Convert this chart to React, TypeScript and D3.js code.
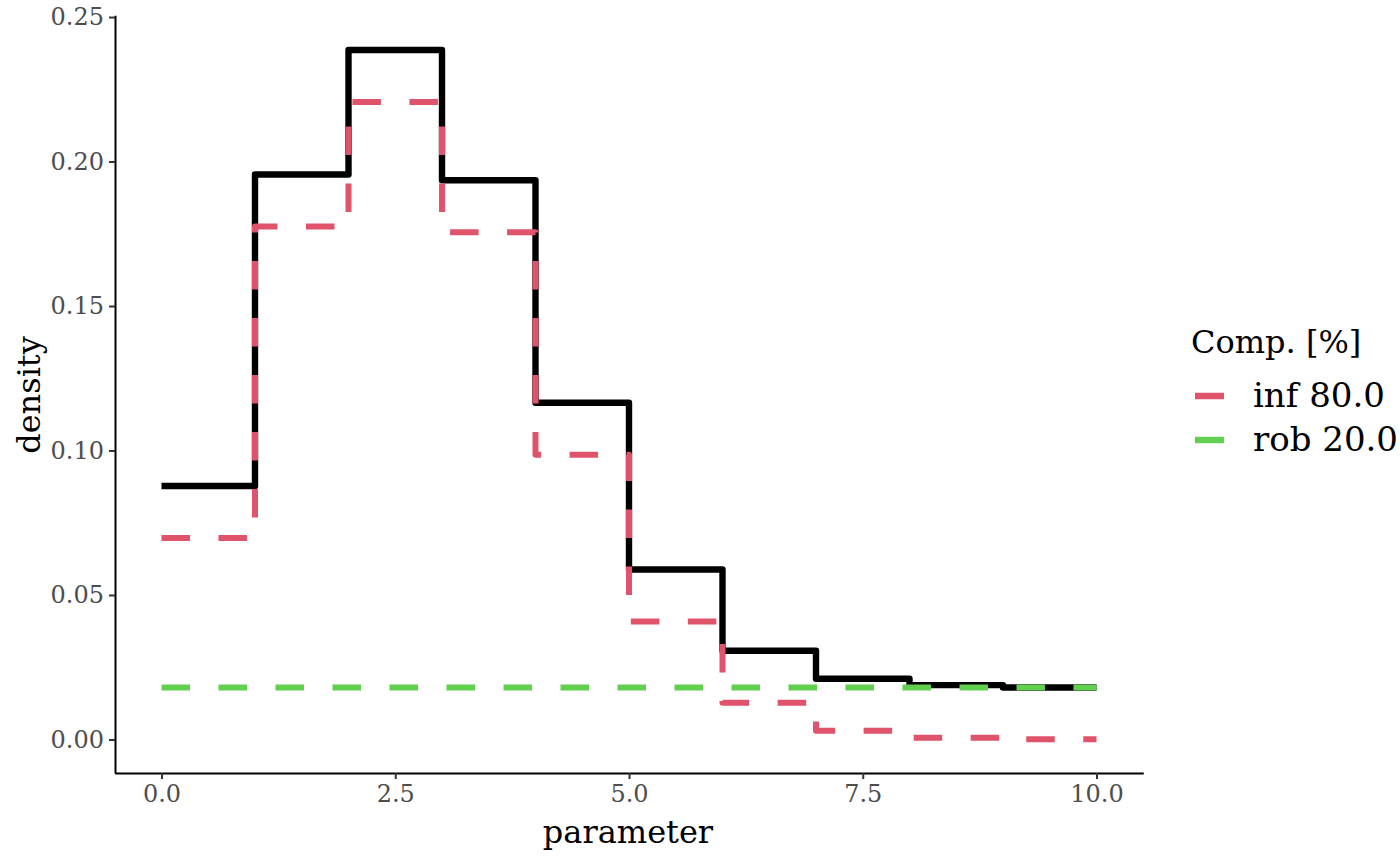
import * as d3 from "d3";
import { useEffect, useRef } from "react";

// bin edges and densities
const edges = [0, 1, 2, 3, 4, 5, 6, 7, 8, 9, 10];
const totalDensity = [0.0877, 0.1955, 0.2386, 0.1935, 0.1165, 0.0588, 0.0307, 0.0210, 0.0188, 0.0180];
const infDensity = [0.0697, 0.1775, 0.2206, 0.1755, 0.0985, 0.0408, 0.0127, 0.0030, 0.0006, 0.0001];
const robDensity = [0.018, 0.018, 0.018, 0.018, 0.018, 0.018, 0.018, 0.018, 0.018, 0.018];

const xTicks = [0, 2.5, 5, 7.5, 10];
const yTicks = [0, 0.05, 0.1, 0.15, 0.2, 0.25];

const legendNames = ["inf 80.0", "rob 20.0"];
const legendColors = ["#DF536B", "#61D04F"];

const FONT = "DejaVu Serif";

function App() {
  const svgRef = useRef<SVGSVGElement>(null);

  useEffect(() => {
    const svg = d3.select(svgRef.current);
    svg.selectAll("*").remove();

    const x = d3.scaleLinear().domain([-0.5, 10.5]).range([114.75, 1143.25]);
    const y = d3.scaleLinear().domain([-0.0116, 0.2506]).range([773, 15.3]);

    const toPoints = (vals: number[]) =>
      edges.map((e, i) => [e, vals[Math.min(i, vals.length - 1)]] as [number, number]);

    const line = d3
      .line<[number, number]>()
      .x((d) => x(d[0]))
      .y((d) => y(d[1]))
      .curve(d3.curveStepAfter);

    // axes
    const xAxis = d3
      .axisBottom(x)
      .tickValues(xTicks)
      .tickSize(6)
      .tickSizeOuter(0)
      .tickPadding(6)
      .tickFormat(d3.format(".1f"));
    const gx = svg.append("g").attr("transform", "translate(0,773)").call(xAxis);

    const yAxis = d3
      .axisLeft(y)
      .tickValues(yTicks)
      .tickSize(6)
      .tickSizeOuter(0)
      .tickPadding(5)
      .tickFormat(d3.format(".2f"));
    const gy = svg.append("g").attr("transform", "translate(115,0)").call(yAxis);

    [gx, gy].forEach((g) => {
      g.select(".domain").attr("stroke", "black").attr("stroke-width", 2);
      g.selectAll(".tick line").attr("stroke", "#333333").attr("stroke-width", 2);
      g.selectAll(".tick text")
        .attr("fill", "#4D4D4D")
        .style("font-family", FONT)
        .style("font-size", "24px");
    });

    // lines
    svg
      .append("path")
      .attr("d", line(toPoints(totalDensity)))
      .attr("fill", "none")
      .attr("stroke", "black")
      .attr("stroke-width", 6.4)
      .attr("stroke-linejoin", "round");

    [infDensity, robDensity].forEach((vals, i) => {
      svg
        .append("path")
        .attr("d", line(toPoints(vals)))
        .attr("fill", "none")
        .attr("stroke", legendColors[i])
        .attr("stroke-width", 6)
        .attr("stroke-dasharray", "28.5 28.5")
        .attr("stroke-linejoin", "round");
    });

    // axis titles
    svg
      .append("text")
      .attr("x", 628)
      .attr("y", 843)
      .attr("text-anchor", "middle")
      .style("font-family", FONT)
      .style("font-size", "32px")
      .text("parameter");

    svg
      .append("text")
      .attr("transform", "translate(40,395) rotate(-90)")
      .attr("text-anchor", "middle")
      .style("font-family", FONT)
      .style("font-size", "32px")
      .text("density");

    // legend
    const legend = svg.append("g");
    legend
      .append("text")
      .attr("x", 1191)
      .attr("y", 353)
      .style("font-family", FONT)
      .style("font-size", "32px")
      .text("Comp. [%]");

    legendNames.forEach((name, i) => {
      const cy = 396 + i * 44;
      legend
        .append("line")
        .attr("x1", 1195)
        .attr("x2", 1224)
        .attr("y1", cy)
        .attr("y2", cy)
        .attr("stroke", legendColors[i])
        .attr("stroke-width", 6.5);
      legend
        .append("text")
        .attr("x", 1253)
        .attr("y", cy + 11)
        .style("font-family", FONT)
        .style("font-size", "34px")
        .text(name);
    });
  }, []);

  return (
    <svg
      ref={svgRef}
      width={1400}
      height={866}
      style={{ position: "absolute", left: 0, top: 0, background: "white" }}
    ></svg>
  );
}

export default App;
